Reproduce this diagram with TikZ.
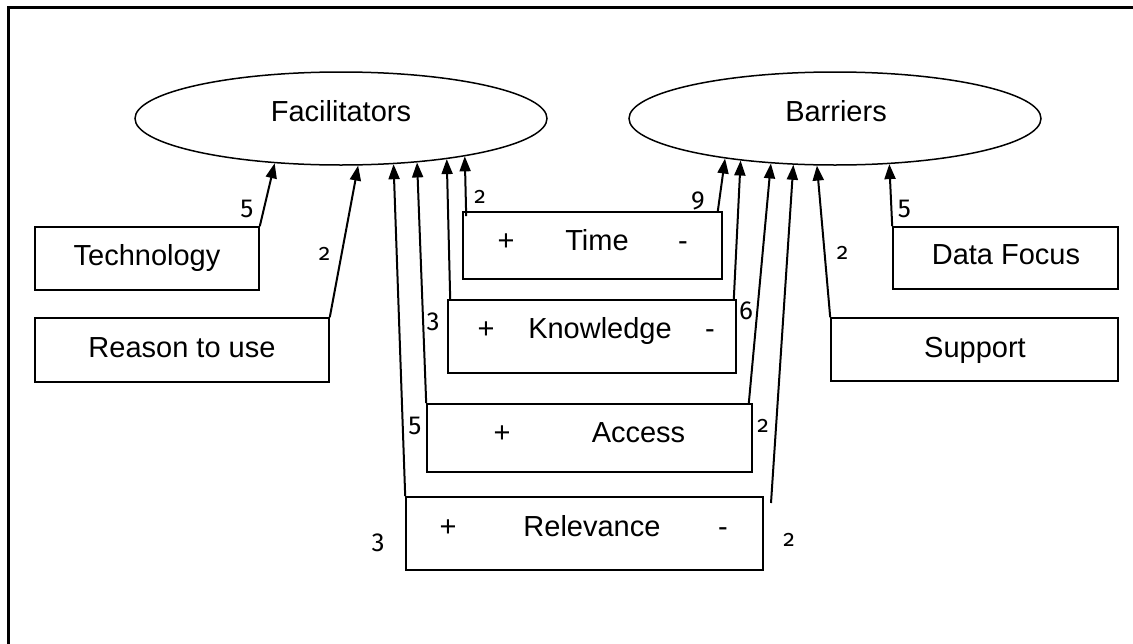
\documentclass[tikz,border=0pt]{standalone}
\usepackage{fontspec}
\setmainfont{Liberation Sans}
\newfontfamily\numfont[Numbers=OldStyle]{Fira Sans}
\newfontfamily\linfont[Numbers=Lining]{Fira Sans}
\usetikzlibrary{arrows.meta,shapes.geometric,calc}
\begin{document}
\begin{tikzpicture}[x=1pt,y=-1pt,
  box/.style={draw,line width=1.6pt,rectangle,inner sep=0pt},
  oval/.style={draw,line width=1.5pt,ellipse,inner sep=0pt,minimum width=412pt,minimum height=93pt},
  txt/.style={anchor=base,inner sep=0pt,font=\fontsize{29}{34}\selectfont},
  num/.style={anchor=center,inner sep=0pt,font=\numfont\fontsize{23}{27}\selectfont},
  bignum/.style={anchor=center,inner sep=0pt,font=\linfont\fontsize{26}{30}\selectfont},
  conn/.style={line width=2pt,-{Triangle[length=15pt,width=11pt]}}]
\useasboundingbox (0,0) rectangle (1133,643);
\fill[white] (0,0) rectangle (1133,643);
% frame (only top and left edges are within the picture)
\draw[line width=3pt] (8,650) -- (8,7) -- (1140,7);

% ellipses
\node[oval] (fac) at (341,118.5) {};
\node[oval] (bar) at (835,118.5) {};
\node[txt] (factxt) at (341,121) {Facilitators};
\node[txt] (bartxt) at (836,121) {Barriers};

% boxes
\node[box,minimum width=224pt,minimum height=63pt] (tech) at (147,258.5) {};
\node[box,minimum width=294pt,minimum height=64pt] (reason) at (182,350) {};
\node[box,minimum width=259pt,minimum height=67pt] (time) at (592.5,245.5) {};
\node[box,minimum width=288pt,minimum height=73pt] (know) at (592,336.5) {};
\node[box,minimum width=325pt,minimum height=68pt] (acc) at (589.5,438) {};
\node[box,minimum width=357pt,minimum height=73pt] (rel) at (584.5,533.5) {};
\node[box,minimum width=225pt,minimum height=62pt] (df) at (1005.5,258) {};
\node[box,minimum width=287pt,minimum height=63pt] (sup) at (974.5,349.5) {};

% box texts
\node[txt] (techtxt) at (147,265) {Technology};
\node[txt] (reasontxt) at (182,357) {Reason to use};
\node[txt] (timep) at (506,250) {+};
\node[txt] (timetxt) at (597,250) {Time};
\node[txt] (timem) at (683,250) {-};
\node[txt] (knowp) at (486,338) {+};
\node[txt] (knowtxt) at (600,338) {Knowledge};
\node[txt] (knowm) at (710,338) {-};
\node[txt] (accp) at (502,442) {+};
\node[txt] (acctxt) at (638.5,442) {Access};
\node[txt] (relp) at (448,536) {+};
\node[txt] (reltxt) at (592,536) {Relevance};
\node[txt] (relm) at (723,536) {-};
\node[txt] (dftxt) at (1006,264) {Data Focus};
\node[txt] (suptxt) at (975,357) {Support};

% connectors to Facilitators
\draw[conn] (tech.north east) -- (fac.-146.7);
\draw[conn] (reason.north east) -- (fac.-70.97);
\draw[conn] (rel.north west) -- (fac.-41.45);
\draw[conn] (acc.north west) -- (fac.-30.4);
\draw[conn] ([xshift=3pt]know.north west) -- (fac.-21.1);
\draw[conn] ([xshift=4pt,yshift=-5pt]time.north west) -- (fac.-17.5);

% connectors to Barriers
\coordinate (relfree) at (771,503);
\draw[conn] ([xshift=-5pt]time.north east) -- (bar.-160.8);
\draw[conn] ([xshift=-3pt]know.north east) -- (bar.-156.5);
\draw[conn] ([xshift=-4pt]acc.north east) -- (bar.-145.8);
\draw[conn] (relfree) -- (bar.-132.7);
\draw[conn] (sup.north west) -- (bar.-111.25);
\draw[conn] (df.north west) -- (bar.-40.3);

% counts
\node[bignum] (n1) at (247,209) {5};
\node[num] (n2) at (324.5,253.5) {2};
\node[num] (n3) at (480,197) {2};
\node[bignum] (n4) at (433,322) {3};
\node[bignum] (n5) at (415,426) {5};
\node[bignum] (n6) at (378,542.5) {3};
\node[bignum] (n7) at (698,200.5) {9};
\node[bignum] (n8) at (746,310.5) {6};
\node[num] (n9) at (763,426) {2};
\node[num] (n10) at (789,540) {2};
\node[num] (n11) at (842.5,253) {2};
\node[bignum] (n12) at (904.5,209) {5};
\end{tikzpicture}
\end{document}
